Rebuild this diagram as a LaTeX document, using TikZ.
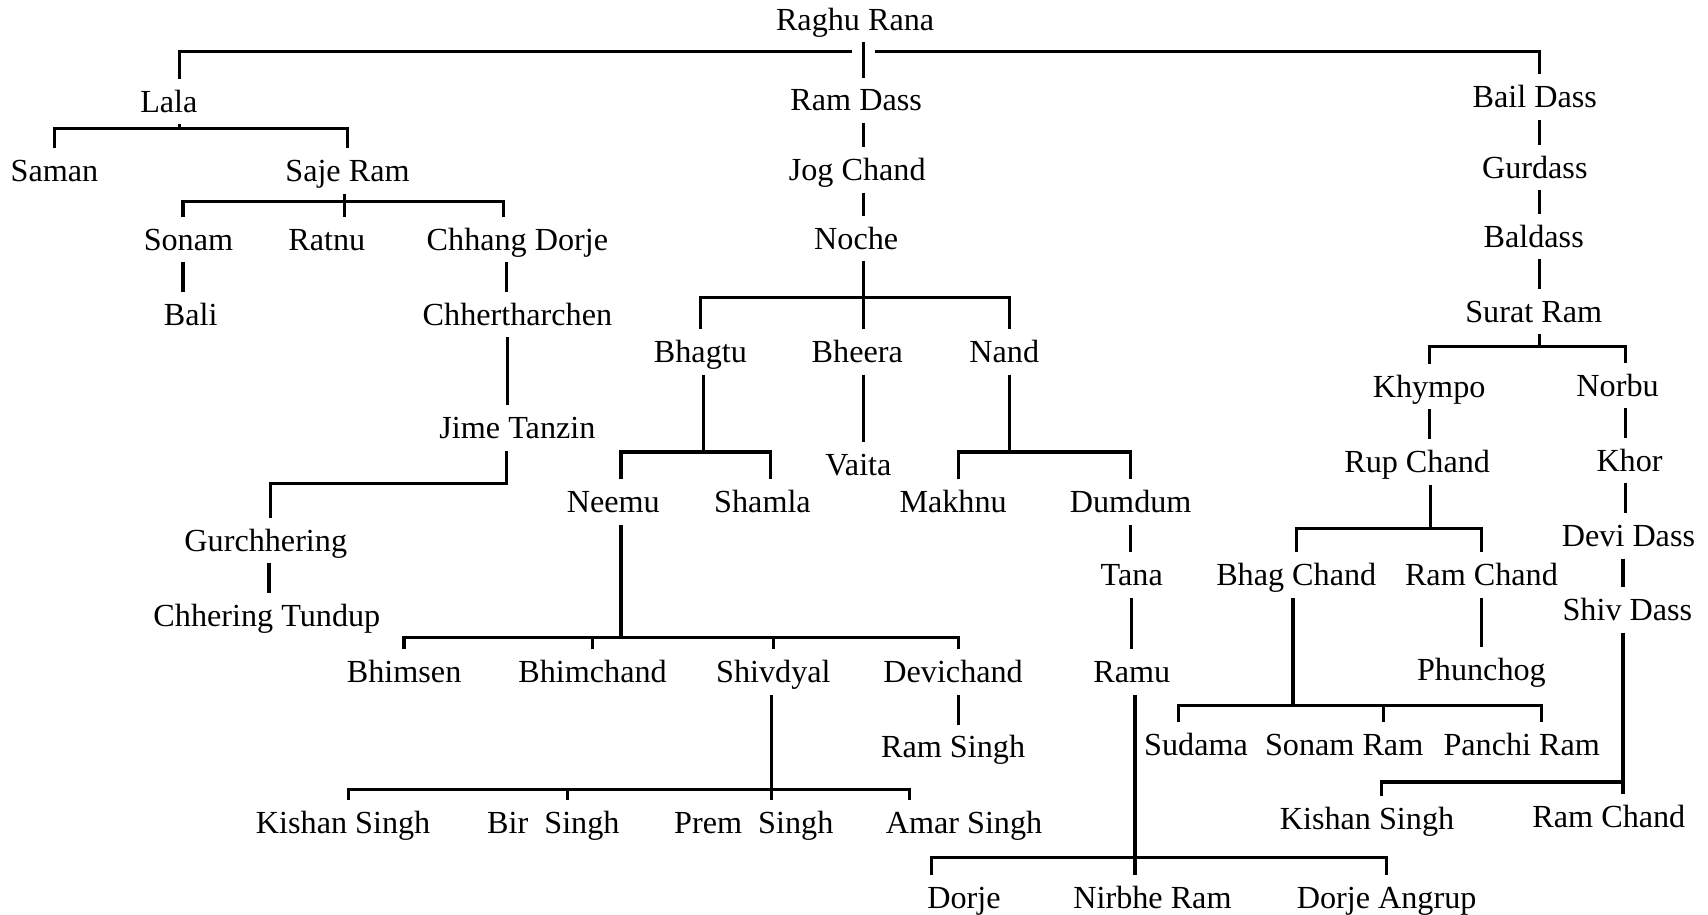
\documentclass[tikz,border=0pt]{standalone}
\usepackage{fontspec}
\setmainfont{Liberation Serif}
\begin{document}
\begin{tikzpicture}[x=0.01cm, y=-0.01cm, line width=0.85pt,
		person/.style={inner sep=1.5pt, text height=6.8pt, text depth=1.2pt, font=\fontsize{8.4}{10}\selectfont}]
	
	\useasboundingbox (0,0) rectangle (1568,840);
	
	% Raghu Rana and his three sons
	\node[person] (raghu) at (785,18) {Raghu Rana};
	\node[person] (lala) at (155,93) {Lala};
	\node[person] (ramdass) at (786,92) {Ram Dass};
	\node[person] (baildass) at (1409,89) {Bail Dass};
	\coordinate (raghuJ) at (793,47);
	\draw (raghu.south -| raghuJ) -- (raghuJ |- ramdass.north);
	\draw ([xshift=.1cm]lala.north) |- ([xshift=-.11cm]raghuJ);
	\draw ([xshift=.04cm]baildass.north) |- ([xshift=.1cm]raghuJ);
	
	% Lala branch
	\node[person] (saman) at (50,157) {Saman};
	\node[person] (sajeram) at (319,157) {Saje Ram};
	\coordinate (lalaJ) at (165,118);
	\draw (lala.south -| lalaJ) -- (lalaJ);
	\draw (saman.north) |- (lalaJ) -| (sajeram.north);
	
	\node[person] (sonam) at (173,220) {Sonam};
	\node[person] (ratnu) at (300,220) {Ratnu};
	\node[person] (chhang) at (475,220) {Chhang Dorje};
	\coordinate (sajeJ) at (316,185);
	\draw (sajeram.south -| sajeJ) -- (sajeJ |- ratnu.north);
	\draw ([xshift=-.05cm]sonam.north) |- (sajeJ) -| ([xshift=-.13cm]chhang.north);
	
	\node[person] (bali) at (175,289) {Bali};
	\node[person] (chhert) at (475,289) {Chhertharchen};
	\node[person] (jime) at (475,393) {Jime Tanzin};
	\node[person] (gurch) at (244,496) {Gurchhering};
	\node[person] (chhering) at (245,565) {Chhering Tundup};
	\draw ([xshift=-.05cm]sonam.south) -- ([xshift=-.05cm]sonam.south |- bali.north);
	\draw ([xshift=-.1cm]chhang.south) -- ([xshift=-.1cm]chhang.south |- chhert.north);
	\draw ([xshift=-.09cm]chhert.south) -- ([xshift=-.09cm]chhert.south |- jime.north);
	\draw ([xshift=-.1cm]jime.south) -- ++(0,30) -| ([xshift=.04cm]gurch.north);
	\draw ([xshift=.03cm]gurch.south) -- ([xshift=.03cm]gurch.south |- chhering.north);
	
	% Ram Dass branch
	\node[person] (jog) at (787,156) {Jog Chand};
	\node[person] (noche) at (786,219) {Noche};
	\draw ([xshift=.07cm]ramdass.south) -- ([xshift=.07cm]ramdass.south |- jog.north);
	\draw ([xshift=.06cm]jog.south) -- ([xshift=.06cm]jog.south |- noche.north);
	
	\node[person] (bhagtu) at (643,323) {Bhagtu};
	\node[person] (bheera) at (787,323) {Bheera};
	\node[person] (nand) at (922,323) {Nand};
	\coordinate (nocheJ) at (793,273);
	\draw (noche.south -| nocheJ) -- (nocheJ |- bheera.north);
	\draw (bhagtu.north) |- (nocheJ) -| ([xshift=.05cm]nand.north);
	
	\node[person] (neemu) at (563,461) {Neemu};
	\node[person] (shamla) at (700,461) {Shamla};
	\node[person] (vaita) at (788,427) {Vaita};
	\node[person] (makhnu) at (875,461) {Makhnu};
	\node[person] (dumdum) at (1038,461) {Dumdum};
	\coordinate (bhagtuJ) at (646,415);
	\coordinate (nandJ) at (927,415);
	\draw (bhagtu.south -| bhagtuJ) -- (bhagtuJ);
	\draw ([xshift=.07cm]neemu.north) |- (bhagtuJ) -| ([xshift=.07cm]shamla.north);
	\draw ([xshift=.06cm]bheera.south) -- ([xshift=.06cm]bheera.south |- vaita.north);
	\draw (nand.south -| nandJ) -- (nandJ);
	\draw ([xshift=.05cm]makhnu.north) |- (nandJ) -| (dumdum.north);
	
	% Neemu's sons
	\node[person] (bhimsen) at (371,617) {Bhimsen};
	\node[person] (bhimchand) at (544,617) {Bhimchand};
	\node[person] (shivdyal) at (710,617) {Shivdyal};
	\node[person] (devichand) at (875,617) {Devichand};
	\coordinate (neemuJ) at (570,585);
	\draw (neemu.south -| neemuJ) -- (neemuJ);
	\draw (bhimsen.north) |- (neemuJ) -| ([xshift=.05cm]devichand.north);
	\draw (bhimchand.north) -- (bhimchand.north |- neemuJ);
	\draw (shivdyal.north) -- (shivdyal.north |- neemuJ);
	
	\node[person] (ramsingh) at (875,686) {Ram Singh};
	\draw ([xshift=.05cm]devichand.south) -- ([xshift=.05cm]devichand.south |- ramsingh.north);
	
	\node[person] (kishan) at (315,755) {Kishan Singh};
	\node[person] (bir) at (508,755) {Bir\ \ Singh};
	\node[person] (prem) at (692,755) {Prem\ \ Singh};
	\node[person] (amar) at (885,755) {Amar Singh};
	\coordinate (shivdyalJ) at (708,725);
	\draw (shivdyal.south -| shivdyalJ) -- (shivdyalJ |- prem.north);
	\draw ([xshift=.05cm]kishan.north) |- (shivdyalJ) -| ([xshift=-.5cm]amar.north);
	\draw ([xshift=.13cm]bir.north) -- ([xshift=.13cm]bir.north |- shivdyalJ);
	
	% Dumdum line
	\node[person] (tana) at (1039,528) {Tana};
	\node[person] (ramu) at (1039,617) {Ramu};
	\draw (dumdum.south) -- (dumdum.south |- tana.north);
	\draw (tana.south) -- (tana.south |- ramu.north);
	
	\node[person] (dorje) at (885,824) {Dorje};
	\node[person] (nirbhe) at (1058,824) {Nirbhe Ram};
	\node[person] (angrup) at (1273,824) {Dorje Angrup};
	\coordinate (ramuJ) at (1042,787);
	\draw (ramu.south -| ramuJ) -- (ramuJ |- nirbhe.north);
	\draw ([xshift=-.3cm]dorje.north) |- (ramuJ) -| (angrup.north);
	
	% Bail Dass branch
	\node[person] (gurdass) at (1409,154) {Gurdass};
	\node[person] (baldass) at (1408,217) {Baldass};
	\node[person] (surat) at (1408,286) {Surat Ram};
	\draw ([xshift=.04cm]baildass.south) -- ([xshift=.04cm]baildass.south |- gurdass.north);
	\draw ([xshift=.04cm]gurdass.south) -- ([xshift=.04cm]gurdass.south |- baldass.north);
	\draw ([xshift=.05cm]baldass.south) -- ([xshift=.05cm]baldass.south |- surat.north);
	
	\node[person] (khympo) at (1312,355) {Khympo};
	\node[person] (norbu) at (1485,354) {Norbu};
	\coordinate (suratJ) at (1413,318);
	\draw (surat.south -| suratJ) -- (suratJ);
	\draw (khympo.north) |- (suratJ) -| ([xshift=.07cm]norbu.north);
	
	% Khympo line
	\node[person] (rupchand) at (1301,424) {Rup Chand};
	\draw (khympo.south) -- (khympo.south |- rupchand.north);
	\node[person] (bhagchand) at (1190,528) {Bhag Chand};
	\node[person] (ramchand) at (1360,528) {Ram Chand};
	\coordinate (rupJ) at (1313,485);
	\draw (rupchand.south -| rupJ) -- (rupJ);
	\draw (bhagchand.north) |- (rupJ) -| (ramchand.north);
	
	\node[person] (phunchog) at (1360,615) {Phunchog};
	\draw (ramchand.south) -- (ramchand.south |- phunchog.north);
	
	\node[person] (sudama) at (1098,684) {Sudama};
	\node[person] (sonamram) at (1234,684) {Sonam Ram};
	\node[person] (panchi) at (1397,684) {Panchi Ram};
	\coordinate (bhagJ) at (1187,648);
	\draw (bhagchand.south -| bhagJ) -- (bhagJ);
	\draw ([xshift=-.16cm]sudama.north) |- (bhagJ) -| ([xshift=.18cm]panchi.north);
	\draw ([xshift=.36cm]sonamram.north) -- ([xshift=.36cm]sonamram.north |- bhagJ);
	
	% Norbu line
	\node[person] (khor) at (1496,423) {Khor};
	\node[person] (devidass) at (1495,492) {Devi Dass};
	\node[person] (shivdass) at (1494,560) {Shiv Dass};
	\draw ([xshift=.07cm]norbu.south) -- ([xshift=.07cm]norbu.south |- khor.north);
	\draw ([xshift=-.04cm]khor.south) -- ([xshift=-.04cm]khor.south |- devidass.north);
	\draw ([xshift=-.05cm]devidass.south) -- ([xshift=-.05cm]devidass.south |- shivdass.north);
	
	\node[person] (kishanb) at (1255,752) {Kishan Singh};
	\node[person] (ramchandb) at (1477,750) {Ram Chand};
	\coordinate (shivJ) at (1490,718);
	\draw (shivdass.south -| shivJ) -- (shivJ |- ramchandb.north);
	\draw ([xshift=.13cm]kishanb.north) |- (shivJ);
	
\end{tikzpicture}
\end{document}
